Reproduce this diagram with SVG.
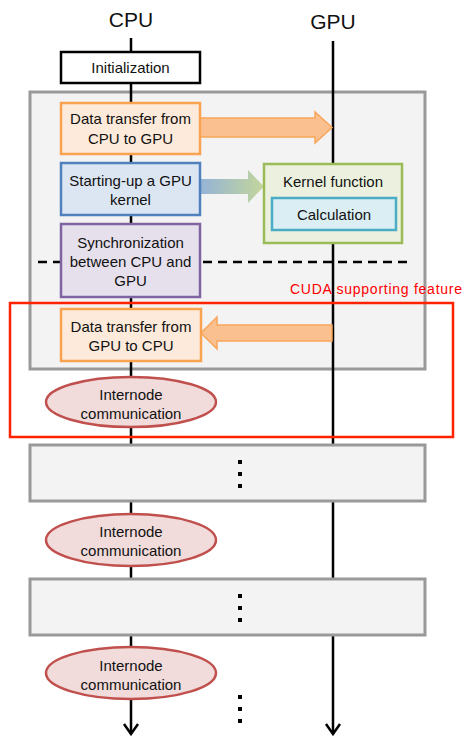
<svg xmlns="http://www.w3.org/2000/svg" width="463" height="736" viewBox="0 0 463 736">
<defs>
<style>
text{font-family:"Liberation Sans",Arial,sans-serif;fill:#111;text-anchor:middle}
.t{font-size:15px}
.title{font-size:21px}
.grey{fill:#f3f3f3;stroke:#999;stroke-width:3}
.life{stroke:#000;stroke-width:2.5;fill:none}
.ell{fill:#f2dcdb;stroke:#c0504d;stroke-width:2.5}
.orange{fill:#fdeada;stroke:#f9a350;stroke-width:2.5}
.dot{fill:#000}
.head{fill:none;stroke:#000;stroke-width:2.5}
</style>
<linearGradient id="gb" x1="0" y1="0" x2="1" y2="0">
<stop offset="0" stop-color="#95b3d7"/>
<stop offset="1" stop-color="#c3d69b"/>
</linearGradient>
</defs>
<rect width="463" height="736" fill="#fff"/>
<g id="cpu-title"><text class="title" x="131" y="27">CPU</text></g>
<g id="gpu-title"><text class="title" x="333" y="29">GPU</text></g>
<g id="block1"><rect class="grey" x="30" y="92" width="395" height="277"/></g>
<g id="connectors">
<line class="life" x1="131" y1="38" x2="131" y2="734"/>
<line class="life" x1="333" y1="41" x2="333" y2="734"/>
<path class="head" d="M124,724 L131,734 L138,724"/>
<path class="head" d="M326,724 L333,734 L340,724"/>
<line x1="38" y1="262" x2="410" y2="262" stroke="#000" stroke-width="2.5" stroke-dasharray="9,6"/>
<polygon points="200,118 315,118 315,112 332,127.5 315,143 315,137 200,137" fill="#fac090" stroke="#f9a65a" stroke-width="1.5"/>
<polygon points="200,179 248,179 248,170 264,186.5 248,203 248,194 200,194" fill="url(#gb)" stroke="none"/>
<polygon points="332,325 217,325 217,317 201,333 217,349 217,341 332,341" fill="#fac090" stroke="#f9a65a" stroke-width="1.5"/>
</g>
<g id="init"><rect x="61" y="52" width="139" height="31" fill="#fff" stroke="#000" stroke-width="2.5"/><text class="t" x="130.5" y="73">Initialization</text></g>
<g id="h2d"><rect class="orange" x="61" y="103" width="139" height="51"/><text class="t" x="130.5" y="124">Data transfer from</text><text class="t" x="130.5" y="144">CPU to GPU</text></g>
<g id="launch"><rect x="61" y="163" width="139" height="52" fill="#dce6f2" stroke="#4f81bd" stroke-width="2.5"/><text class="t" x="130.5" y="186">Starting-up a GPU</text><text class="t" x="130.5" y="205">kernel</text></g>
<g id="sync"><rect x="61" y="224" width="139" height="73" fill="#e6e0ec" stroke="#8064a2" stroke-width="2.5"/><text class="t" x="130.5" y="248">Synchronization</text><text class="t" x="130.5" y="267">between CPU and</text><text class="t" x="130.5" y="286">GPU</text></g>
<g id="kernel"><rect x="264" y="164" width="138" height="79" fill="#ebf1de" stroke="#9bbb59" stroke-width="2.5"/><text class="t" x="333" y="187">Kernel function</text>
<g id="calc"><rect x="272" y="198" width="124" height="32" fill="#dbeef4" stroke="#4bacc6" stroke-width="2.5"/><text class="t" x="334" y="220">Calculation</text></g></g>
<g id="d2h"><rect class="orange" x="61" y="309" width="140" height="52"/><text class="t" x="131" y="332">Data transfer from</text><text class="t" x="131" y="351">GPU to CPU</text></g>
<g id="comm1"><ellipse class="ell" cx="131" cy="402" rx="85" ry="25"/><text class="t" x="131" y="400">Internode</text><text class="t" x="131" y="419">communication</text></g>
<g id="cuda"><rect x="10" y="303" width="443" height="134" fill="none" stroke="#ff2200" stroke-width="2.5"/><text x="290" y="294" textLength="172" style="font-size:14px;fill:#ff0000;text-anchor:start">CUDA supporting feature</text></g>
<g id="block2"><rect class="grey" x="30" y="445" width="395" height="56"/><rect class="dot" x="238" y="460" width="4" height="4"/><rect class="dot" x="238" y="472" width="4" height="4"/><rect class="dot" x="238" y="484" width="4" height="4"/></g>
<g id="comm2"><ellipse class="ell" cx="131" cy="540" rx="85" ry="26"/><text class="t" x="131" y="537">Internode</text><text class="t" x="131" y="556">communication</text></g>
<g id="block3"><rect class="grey" x="30" y="579" width="395" height="56"/><rect class="dot" x="238" y="594" width="4" height="4"/><rect class="dot" x="238" y="606" width="4" height="4"/><rect class="dot" x="238" y="618" width="4" height="4"/></g>
<g id="comm3"><ellipse class="ell" cx="131" cy="673" rx="85" ry="26"/><text class="t" x="131" y="671">Internode</text><text class="t" x="131" y="690">communication</text></g>
<g id="more"><rect class="dot" x="238" y="695" width="4" height="4"/><rect class="dot" x="238" y="707" width="4" height="4"/><rect class="dot" x="238" y="719" width="4" height="4"/></g>
</svg>
